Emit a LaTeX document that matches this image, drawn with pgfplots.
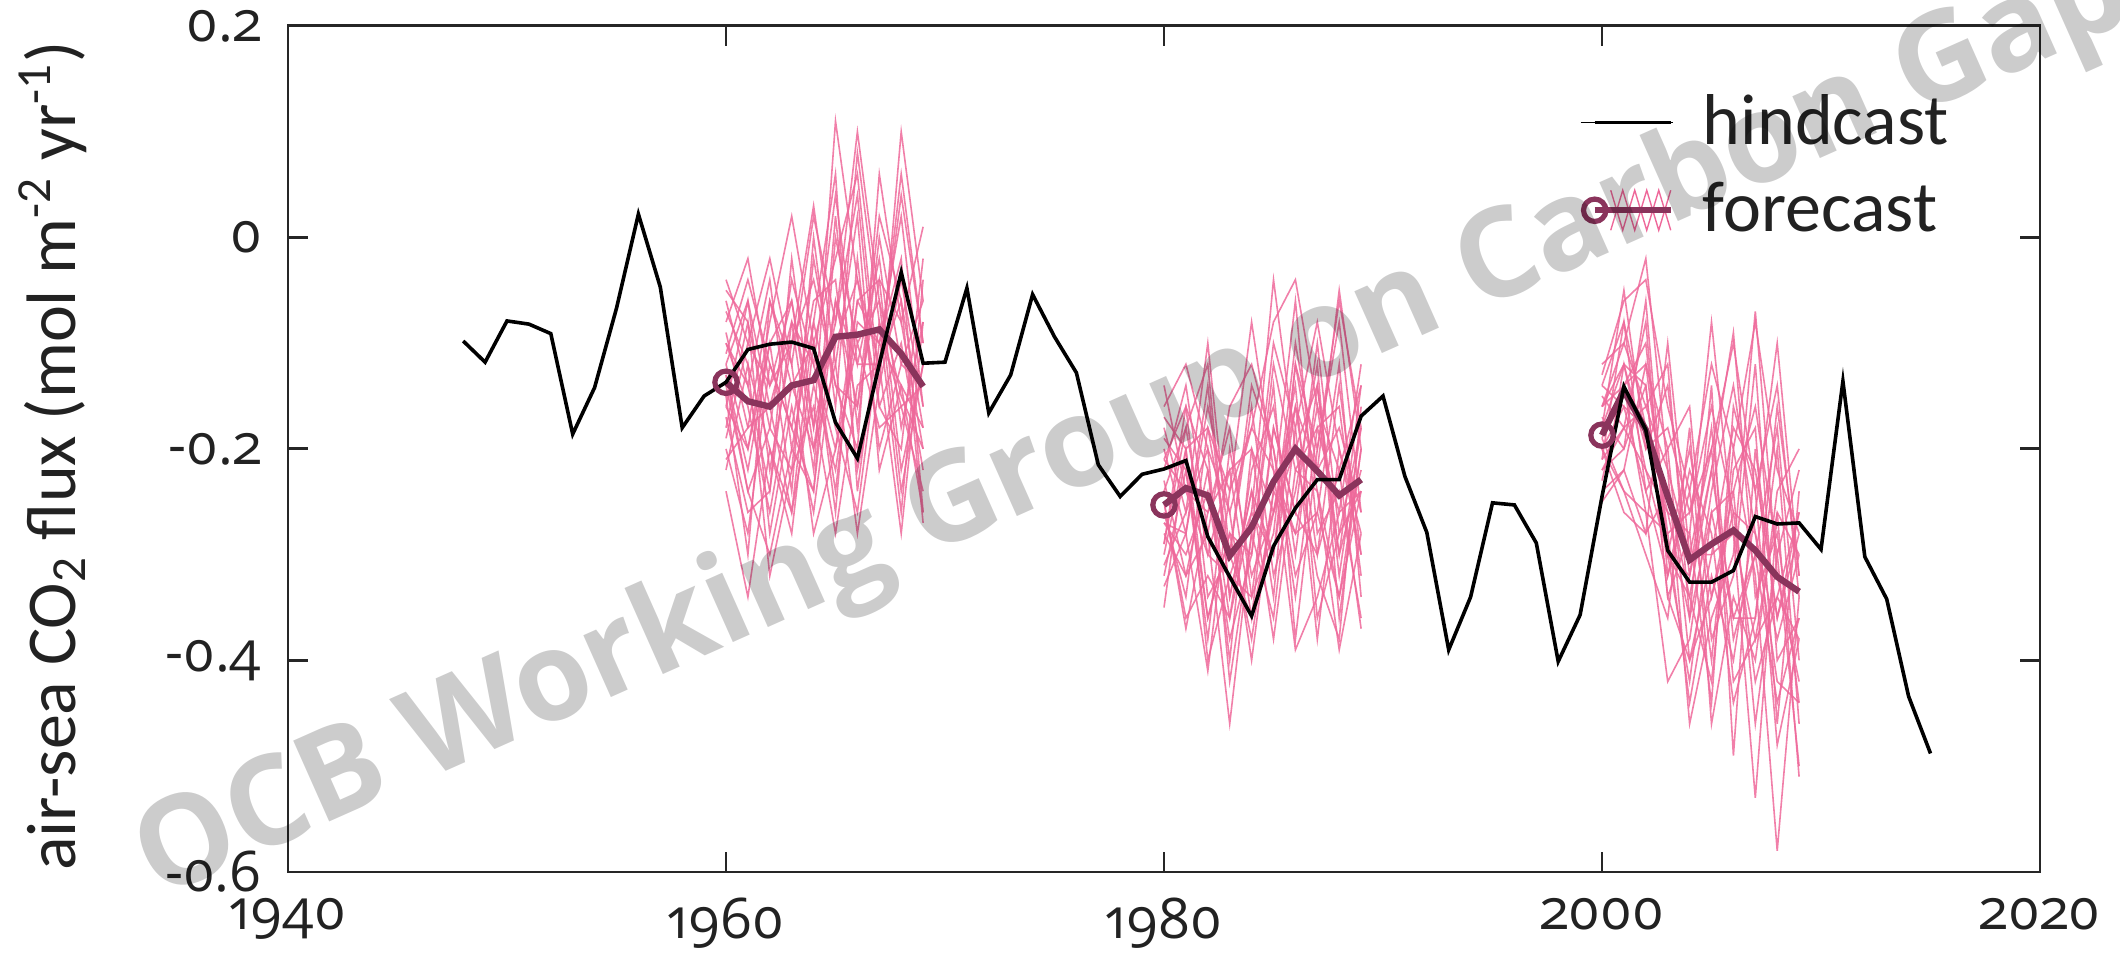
\documentclass[border=0pt]{standalone}
\usepackage{fontspec}
\setmainfont{Carlito}
\newfontfamily\tickfont{Open Sans}[Numbers=OldStyle]
\newfontfamily\wmfont{Open Sans}
\usepackage{pgfplots}
\usepackage{pgfplotstable}
\pgfplotsset{compat=1.18}
\definecolor{pinkc}{RGB}{238,104,154}
\definecolor{meanc}{RGB}{138,52,92}
\definecolor{txt}{RGB}{34,34,34}

\pgfplotstableread{
yr v
1948 -0.098
1949 -0.118
1950 -0.079
1951 -0.082
1952 -0.091
1953 -0.186
1954 -0.142
1955 -0.067
1956 0.022
1957 -0.047
1958 -0.180
1959 -0.150
1960 -0.137
1961 -0.106
1962 -0.101
1963 -0.099
1964 -0.105
1965 -0.175
1966 -0.209
1967 -0.120
1968 -0.033
1969 -0.119
1970 -0.118
1971 -0.048
1972 -0.166
1973 -0.130
1974 -0.054
1975 -0.094
1976 -0.128
1977 -0.215
1978 -0.245
1979 -0.224
1980 -0.219
1981 -0.211
1982 -0.283
1983 -0.321
1984 -0.358
1985 -0.292
1986 -0.256
1987 -0.229
1988 -0.229
1989 -0.169
1990 -0.150
1991 -0.226
1992 -0.279
1993 -0.390
1994 -0.340
1995 -0.251
1996 -0.253
1997 -0.289
1998 -0.401
1999 -0.357
2000 -0.245
2001 -0.141
2002 -0.182
2003 -0.296
2004 -0.326
2005 -0.326
2006 -0.315
2007 -0.264
2008 -0.271
2009 -0.270
2010 -0.295
2011 -0.136
2012 -0.302
2013 -0.342
2014 -0.434
2015 -0.488
}\hind

\pgfplotstableread{
yr v
1960 -0.137
1961 -0.155
1962 -0.160
1963 -0.140
1964 -0.135
1965 -0.094
1966 -0.092
1967 -0.087
1968 -0.110
1969 -0.141
}\meanA

\pgfplotstableread{
yr v
1980 -0.253
1981 -0.237
1982 -0.244
1983 -0.301
1984 -0.274
1985 -0.231
1986 -0.200
1987 -0.221
1988 -0.244
1989 -0.229
}\meanB

\pgfplotstableread{
yr v
2000 -0.187
2001 -0.145
2002 -0.182
2003 -0.245
2004 -0.305
2005 -0.290
2006 -0.277
2007 -0.296
2008 -0.321
2009 -0.335
}\meanC

\pgfplotstableread{
yr m1 m2 m3 m4 m5 m6 m7 m8 m9 m10 m11 m12 m13 m14 m15 m16 m17 m18 m19 m20 m21 m22 m23 m24
1960 -0.04 -0.08 -0.12 -0.16 -0.20 -0.24 -0.10 -0.14 -0.06 -0.18 -0.13 -0.22 -0.09 -0.15 -0.11 -0.17 -0.07 -0.19 -0.13 -0.21 -0.05 -0.16 -0.10 -0.12
1961 -0.10 -0.02 -0.20 -0.06 -0.28 -0.34 -0.16 -0.24 -0.14 -0.08 -0.22 -0.12 -0.18 -0.30 -0.04 -0.26 -0.12 -0.10 -0.24 -0.18 -0.08 -0.20 -0.14 -0.06
1962 -0.02 -0.14 -0.08 -0.22 -0.12 -0.20 -0.26 -0.18 -0.04 -0.28 -0.10 -0.32 -0.16 -0.06 -0.12 -0.24 -0.20 -0.14 -0.30 -0.06 -0.18 -0.10 -0.24 -0.16
1963 -0.12 -0.06 0.02 -0.10 -0.18 -0.26 -0.14 -0.04 -0.20 -0.16 -0.24 -0.22 -0.08 -0.12 -0.18 -0.02 -0.28 -0.10 -0.20 -0.14 -0.22 -0.06 -0.08 -0.26
1964 0.02 -0.18 -0.10 -0.04 -0.24 -0.14 -0.20 -0.12 -0.08 -0.26 0.00 -0.16 -0.22 -0.28 -0.06 -0.18 -0.10 0.03 -0.24 -0.10 -0.02 -0.20 -0.12 -0.08
1965 -0.08 0.11 -0.02 -0.14 -0.06 -0.22 -0.12 0.04 -0.18 -0.10 -0.16 -0.28 0.02 -0.20 -0.04 -0.08 -0.24 -0.12 0.00 -0.26 -0.14 -0.06 -0.20 0.06
1966 0.10 -0.04 0.06 -0.20 -0.16 -0.08 0.02 -0.12 -0.26 -0.04 0.08 -0.14 -0.18 -0.10 -0.22 0.04 -0.06 -0.28 -0.10 -0.02 -0.16 -0.12 -0.06 -0.24
1967 -0.06 -0.12 -0.14 0.06 -0.04 -0.10 -0.22 -0.02 -0.10 -0.16 -0.08 -0.12 0.00 -0.18 -0.12 -0.16 -0.04 -0.14 -0.06 -0.20 0.02 -0.12 -0.10 -0.08
1968 -0.15 0.04 0.10 -0.08 -0.22 -0.02 -0.14 -0.18 0.02 -0.10 -0.26 -0.06 -0.12 -0.16 0.06 -0.20 -0.08 -0.04 -0.24 -0.12 -0.06 -0.28 -0.14 -0.16
1969 -0.20 -0.10 -0.06 0.01 -0.12 -0.26 -0.18 -0.08 -0.16 -0.22 -0.04 -0.27 -0.14 -0.24 -0.10 -0.02 -0.20 -0.16 -0.12 -0.06 -0.18 -0.08 -0.26 -0.14
}\ensA

\pgfplotstableread{
yr m1 m2 m3 m4 m5 m6 m7 m8 m9 m10 m11 m12 m13 m14 m15 m16 m17 m18 m19 m20 m21 m22 m23 m24
1980 -0.16 -0.20 -0.24 -0.28 -0.32 -0.18 -0.22 -0.26 -0.30 -0.14 -0.25 -0.33 -0.21 -0.27 -0.19 -0.29 -0.23 -0.31 -0.17 -0.25 -0.21 -0.29 -0.27 -0.35
1981 -0.12 -0.28 -0.18 -0.32 -0.22 -0.26 -0.14 -0.34 -0.20 -0.24 -0.36 -0.28 -0.16 -0.30 -0.22 -0.18 -0.32 -0.26 -0.20 -0.37 -0.24 -0.16 -0.28 -0.20
1982 -0.20 -0.14 -0.30 -0.22 -0.36 -0.10 -0.28 -0.18 -0.40 -0.26 -0.32 -0.16 -0.34 -0.24 -0.38 -0.12 -0.28 -0.20 -0.36 -0.26 -0.30 -0.22 -0.41 -0.18
1983 -0.26 -0.34 -0.22 -0.40 -0.28 -0.30 -0.46 -0.24 -0.32 -0.18 -0.36 -0.26 -0.30 -0.38 -0.20 -0.34 -0.16 -0.42 -0.28 -0.22 -0.32 -0.36 -0.24 -0.30
1984 -0.18 -0.24 -0.36 -0.20 -0.30 -0.14 -0.28 -0.08 -0.26 -0.34 -0.22 -0.40 -0.16 -0.30 -0.32 -0.24 -0.12 -0.28 -0.38 -0.20 -0.34 -0.26 -0.18 -0.36
1985 -0.08 -0.30 -0.18 -0.26 -0.12 -0.20 -0.36 -0.22 -0.04 -0.28 -0.16 -0.24 -0.32 -0.14 -0.26 -0.38 -0.20 -0.10 -0.24 -0.34 -0.18 -0.30 -0.22 -0.26
1986 -0.04 -0.12 -0.26 -0.16 -0.22 -0.34 -0.18 -0.28 -0.20 -0.10 -0.30 -0.06 -0.24 -0.38 -0.14 -0.22 -0.32 -0.18 -0.28 -0.12 -0.26 -0.16 -0.39 -0.20
1987 -0.16 -0.20 -0.10 -0.30 -0.24 -0.18 -0.08 -0.26 -0.32 -0.22 -0.14 -0.28 -0.12 -0.20 -0.36 -0.18 -0.26 -0.38 -0.16 -0.24 -0.30 -0.22 -0.34 -0.14
1988 -0.22 -0.06 -0.28 -0.14 -0.34 -0.26 -0.20 -0.12 -0.38 -0.18 -0.30 -0.24 -0.36 -0.08 -0.28 -0.16 -0.34 -0.20 -0.30 -0.39 -0.22 -0.05 -0.26 -0.32
1989 -0.14 -0.18 -0.24 -0.30 -0.20 -0.12 -0.28 -0.34 -0.16 -0.26 -0.22 -0.36 -0.20 -0.26 -0.18 -0.32 -0.24 -0.30 -0.14 -0.28 -0.37 -0.20 -0.24 -0.18
}\ensB

\pgfplotstableread{
yr m1 m2 m3 m4 m5 m6 m7 m8 m9 m10 m11 m12 m13 m14 m15 m16 m17 m18 m19 m20 m21 m22 m23 m24
2000 -0.13 -0.16 -0.19 -0.22 -0.25 -0.17 -0.21 -0.14 -0.24 -0.18 -0.20 -0.15 -0.23 -0.12 -0.19 -0.16 -0.22 -0.20 -0.14 -0.25 -0.18 -0.21 -0.16 -0.20
2001 -0.06 -0.10 -0.14 -0.18 -0.12 -0.20 -0.08 -0.16 -0.22 -0.05 -0.26 -0.18 -0.14 -0.10 -0.24 -0.12 -0.20 -0.16 -0.08 -0.22 -0.12 -0.18 -0.14 -0.24
2002 -0.04 -0.02 -0.10 -0.16 -0.22 -0.14 -0.24 -0.18 -0.12 -0.20 -0.28 -0.08 -0.26 -0.16 -0.30 -0.20 -0.06 -0.24 -0.18 -0.28 -0.14 -0.22 -0.12 -0.26
2003 -0.16 -0.22 -0.30 -0.12 -0.26 -0.34 -0.20 -0.30 -0.28 -0.18 -0.24 -0.32 -0.42 -0.22 -0.36 -0.14 -0.30 -0.32 -0.26 -0.10 -0.34 -0.30 -0.20 -0.28
2004 -0.24 -0.30 -0.20 -0.36 -0.28 -0.40 -0.16 -0.32 -0.44 -0.26 -0.34 -0.22 -0.38 -0.46 -0.18 -0.32 -0.42 -0.24 -0.36 -0.30 -0.28 -0.34 -0.40 -0.26
2005 -0.12 -0.20 -0.34 -0.26 -0.08 -0.30 -0.38 -0.22 -0.32 -0.16 -0.42 -0.28 -0.24 -0.36 -0.46 -0.18 -0.26 -0.40 -0.14 -0.30 -0.44 -0.22 -0.34 -0.20
2006 -0.20 -0.10 -0.24 -0.36 -0.28 -0.18 -0.32 -0.09 -0.40 -0.26 -0.22 -0.44 -0.14 -0.30 -0.34 -0.38 -0.24 -0.20 -0.49 -0.28 -0.16 -0.36 -0.26 -0.42
2007 -0.08 -0.24 -0.16 -0.30 -0.38 -0.22 -0.12 -0.34 -0.26 -0.42 -0.18 -0.36 -0.28 -0.07 -0.40 -0.30 -0.46 -0.32 -0.20 -0.53 -0.24 -0.36 -0.28 -0.38
2008 -0.22 -0.14 -0.30 -0.18 -0.26 -0.36 -0.40 -0.28 -0.10 -0.34 -0.46 -0.20 -0.38 -0.32 -0.24 -0.44 -0.30 -0.58 -0.36 -0.26 -0.48 -0.16 -0.42 -0.34
2009 -0.28 -0.34 -0.22 -0.40 -0.30 -0.26 -0.36 -0.44 -0.32 -0.38 -0.24 -0.46 -0.30 -0.42 -0.20 -0.36 -0.50 -0.34 -0.28 -0.51 -0.38 -0.32 -0.44 -0.26
}\ensC

\begin{document}
\begin{tikzpicture}
\begin{axis}[
  scale only axis, width=438pt, height=211.5pt,
  xmin=1940, xmax=2020, ymin=-0.6, ymax=0.2,
  xtick={1940,1960,1980,2000,2020},
  xticklabels={1940,1960,1980,2000,2020},
  ytick={-0.6,-0.4,-0.2,0,0.2},
  yticklabels={-0.6,-0.4,-0.2,0,0.2},
  minor tick num=0,
  tick align=inside, tick pos=both,
  major tick length=5pt,
  axis line style={line width=0.7pt, draw=black!85},
  every tick/.style={line width=0.7pt, black!85},
  tick label style={font=\tickfont\fontsize{14}{17}\selectfont, text=txt},
  xticklabel style={yshift=-3pt},
  yticklabel style={xshift=-3pt},
  ylabel={air-sea CO\textsubscript{2} flux (mol m\textsuperscript{-2} yr\textsuperscript{-1})},
  every axis y label/.style={at={(rel axis cs:-0.1345,0.4916)}, rotate=90, anchor=center, font=\fontsize{17.5}{20}\selectfont, text=txt},
  legend style={at={(rel axis cs:0.7374,0.9188)}, anchor=north west, draw=none, fill=none,
    inner sep=0pt, outer sep=0pt, row sep=8pt, column sep=7.25pt,
    font=\fontsize{18}{21}\selectfont, text=txt, nodes={inner sep=0pt}, cells={anchor=west}},
]
\pgfplotsinvokeforeach{1,...,24}{
  \addplot[pinkc, line width=0.4pt, opacity=0.85, forget plot] table[x=yr, y=m#1]{\ensA};
  \addplot[pinkc, line width=0.4pt, opacity=0.85, forget plot] table[x=yr, y=m#1]{\ensB};
  \addplot[pinkc, line width=0.4pt, opacity=0.85, forget plot] table[x=yr, y=m#1]{\ensC};
}
\addplot[meanc, line width=1.6pt, mark=o, mark indices={1}, mark options={line width=1.3pt, mark size=2.8pt, solid}, forget plot] table[x=yr, y=v]{\meanA};
\addplot[meanc, line width=1.6pt, mark=o, mark indices={1}, mark options={line width=1.3pt, mark size=2.8pt, solid}, forget plot] table[x=yr, y=v]{\meanB};
\addplot[meanc, line width=1.6pt, mark=o, mark indices={1}, mark options={line width=1.3pt, mark size=2.8pt, solid}, forget plot] table[x=yr, y=v]{\meanC};
\addplot[black, line width=0.9pt, forget plot] table[x=yr, y=v]{\hind};

\addlegendimage{legend image code/.code={
  \path (-3.5pt,0pt) -- (19.5pt,0pt);
  \draw[black, line width=0.9pt] (0pt,0pt) -- (19pt,0pt);}}
\addlegendentry{hindcast}
\addlegendimage{legend image code/.code={
  \draw[pinkc, line width=0.35pt] (4pt,-5pt) -- (7pt,5pt) -- (10pt,-5pt) -- (13pt,5pt) -- (16pt,-5pt) -- (19pt,5pt);
  \draw[pinkc, line width=0.35pt] (4pt,5pt) -- (7pt,-5pt) -- (10pt,5pt) -- (13pt,-5pt) -- (16pt,5pt) -- (19pt,-5pt);
  \draw[meanc, line width=1.6pt] (0pt,0pt) -- (19pt,0pt);
  \draw[meanc, line width=1.3pt] (0pt,0pt) circle (2.8pt);}}
\addlegendentry{forecast}

\coordinate (SW) at (rel axis cs:0,0);
\coordinate (NE) at (rel axis cs:1,1);
\coordinate (WM) at (rel axis cs:0.4832,0.5235);
\end{axis}
\node[rotate=24, text=black, text opacity=0.2, font=\wmfont\bfseries\fontsize{31}{35}\selectfont, inner sep=0pt] at (WM) {OCB Working Group on Carbon Gap};
\pgfresetboundingbox
\path[use as bounding box] ([shift={(-72pt,-23.55pt)}]SW) rectangle ([shift={(20pt,6.475pt)}]NE);
\end{tikzpicture}
\end{document}
